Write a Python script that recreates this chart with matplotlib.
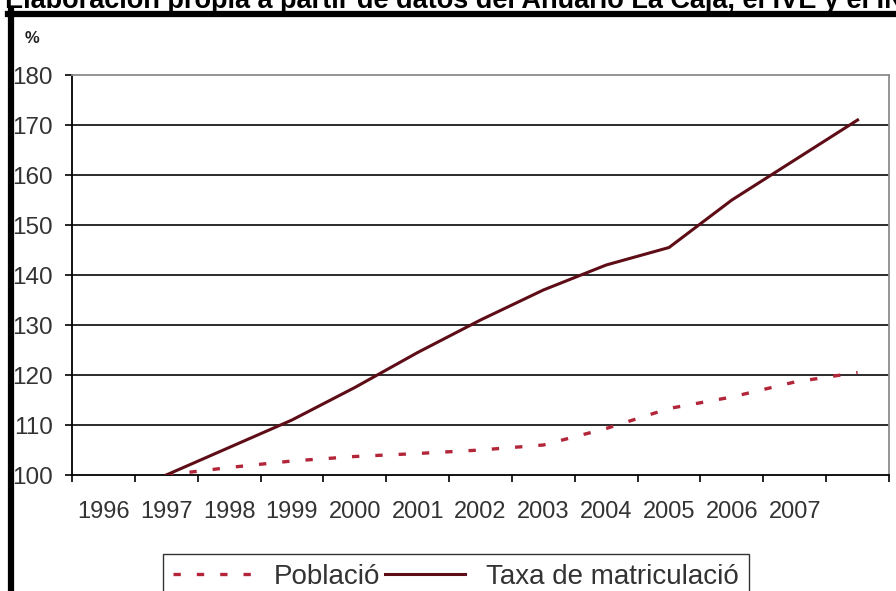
import matplotlib
matplotlib.use("Agg")
import matplotlib.pyplot as plt
from matplotlib.lines import Line2D
import numpy as np

plt.rcParams["font.family"] = ["Liberation Sans", "DejaVu Sans"]

# category axis: 13 slots, only the first 12 carry a year label
year_labels = ["1996", "1997", "1998", "1999", "2000", "2001",
               "2002", "2003", "2004", "2005", "2006", "2007", ""]
# series start at the second slot
series_slots = [1, 2, 3, 4, 5, 6, 7, 8, 9, 10, 11, 12]
poblacio = [100.0, 101.5, 102.8, 103.7, 104.3, 105.0,
            106.0, 109.3, 113.3, 115.6, 118.6, 120.5]
taxa = [100.0, 105.5, 111.0, 117.5, 124.5, 131.0,
        137.0, 142.0, 145.5, 155.0, 163.0, 171.0]
y_ticks = [100, 110, 120, 130, 140, 150, 160, 170, 180]

fig = plt.figure(figsize=(8.96, 5.91), dpi=100)
ax = fig.add_axes([72 / 896, 1 - 475 / 591, 817 / 896, 400 / 591])

ax.set_xlim(-0.5, len(year_labels) - 0.5)
ax.set_ylim(100, 180)

# horizontal gridlines
for v in y_ticks[1:-1]:
    ax.axhline(v, color="#1a1a1a", lw=1.3, zorder=1)

ax.plot(series_slots, poblacio, color="#b3263a", lw=2.4,
        dashes=(2.2, 4.8), dash_capstyle="butt",
        zorder=3, label="Població")
ax.plot(series_slots, taxa, color="#5e0d17", lw=2.2, zorder=4,
        label="Taxa de matriculació")

for side in ["left", "bottom"]:
    ax.spines[side].set_color("black")
    ax.spines[side].set_linewidth(1.3)
for side in ["top", "right"]:
    ax.spines[side].set_color("#8c8c8c")
    ax.spines[side].set_linewidth(1.3)

ax.set_yticks(y_ticks)
ax.set_yticklabels([str(v) for v in y_ticks])
ax.tick_params(axis="y", direction="out", length=5, width=1.2,
               color="black", pad=9, labelsize=17.5, labelcolor="#333333")

slots = np.arange(len(year_labels))
ax.set_xticks(np.arange(len(year_labels) + 1) - 0.5)
ax.set_xticklabels([])
ax.set_xticks(slots, minor=True)
ax.set_xticklabels(year_labels, minor=True)
ax.tick_params(axis="x", which="major", direction="out", length=5,
               width=1.2, color="black")
ax.tick_params(axis="x", which="minor", length=0, pad=19,
               labelsize=17, labelcolor="#333333")

# title (partly cut by the top edge) and the "%" unit
fig.text(5 / 896, 1 - 8 / 591,
         "Elaboración propia a partir de datos del Anuario La Caja, el IVE y el INE",
         fontsize=19.5, fontweight="bold", ha="left", va="baseline")
fig.text(25 / 896, 1 - 43 / 591, "%", fontsize=12, fontweight="bold",
         ha="left", va="baseline", color="#222222")

# black frame on the top and left of the picture
fig.add_artist(Line2D([8 / 896, 1.0], [1 - 13.5 / 591, 1 - 13.5 / 591],
                      transform=fig.transFigure, color="black", lw=4.5))
fig.add_artist(Line2D([11 / 896, 11 / 896], [1 - 11 / 591, 0.0],
                      transform=fig.transFigure, color="black", lw=4.5))

leg = fig.legend(loc="upper left", bbox_to_anchor=(163 / 896, 1 - 554 / 591),
                 borderaxespad=0, ncol=2, fontsize=20, frameon=True,
                 fancybox=False, edgecolor="black", handlelength=2.9,
                 handletextpad=0.75, columnspacing=0.15, borderpad=0.35,
                 labelcolor="#333333")
leg.get_frame().set_linewidth(1.0)

fig.savefig("out.png", dpi=100)
